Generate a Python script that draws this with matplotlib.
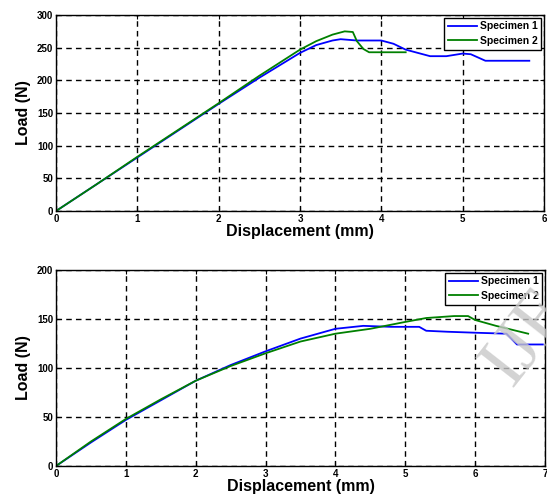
import matplotlib
matplotlib.use("Agg")
import matplotlib.pyplot as plt

# top panel: load vs displacement
top_x1 = [0, 0.5, 1.0, 1.5, 2.0, 2.5, 3.0, 3.2, 3.4, 3.5, 3.7, 3.9, 4.0, 4.15, 4.3, 4.45, 4.6, 4.8, 5.0, 5.1, 5.28, 5.5, 5.82]
top_y1 = [0, 41, 82, 123, 164, 204, 242, 254, 261, 263, 261, 261, 261, 256, 247, 242, 237, 237, 241, 240, 230, 230, 230]
top_x2 = [0, 0.5, 1.0, 1.5, 2.0, 2.5, 3.0, 3.2, 3.4, 3.55, 3.65, 3.7, 3.78, 3.85, 4.0, 4.15, 4.3]
top_y2 = [0, 41, 83, 124, 165, 207, 247, 260, 270, 275, 274, 260, 248, 243, 243, 243, 243]

# bottom panel
bot_x1 = [0, 0.5, 1.0, 1.5, 2.0, 2.5, 3.0, 3.5, 4.0, 4.4, 4.8, 5.2, 5.3, 5.6, 6.0, 6.45, 6.6, 6.97]
bot_y1 = [0, 24, 47, 67, 87, 103, 117, 130, 140, 143, 142, 142, 138, 137, 136, 135, 124, 124]
bot_x2 = [0, 0.5, 1.0, 1.5, 2.0, 2.5, 3.0, 3.5, 4.0, 4.5, 5.0, 5.3, 5.7, 5.9, 6.0, 6.3, 6.76]
bot_y2 = [0, 25, 48, 68, 87, 102, 115, 127, 135, 140, 147, 151, 153, 153, 149, 143, 135]

labels = ["Specimen 1", "Specimen 2"]
colors = ["#0000ff", "#008000"]

plt.rcParams["font.family"] = ["Liberation Sans", "DejaVu Sans"]
plt.rcParams["font.weight"] = "bold"

fig = plt.figure(figsize=(5.47, 5.04), dpi=100)
ax_top = fig.add_axes([0.1024, 0.5813, 0.8920, 0.3889])
ax_bot = fig.add_axes([0.1024, 0.0754, 0.8938, 0.3889])

panels = [
    (ax_top, top_x1, top_y1, top_x2, top_y2, 6, 300, 1, 50),
    (ax_bot, bot_x1, bot_y1, bot_x2, bot_y2, 7, 200, 1, 50),
]

for ax, x1, y1, x2, y2, xmax, ymax, xstep, ystep in panels:
    ax.plot(x1, y1, color=colors[0], lw=1.3, label=labels[0])
    ax.plot(x2, y2, color=colors[1], lw=1.3, label=labels[1])
    ax.set_xlim(0, xmax)
    ax.set_ylim(0, ymax)
    ax.set_xticks(range(0, xmax + 1, xstep))
    ax.set_yticks(range(0, ymax + 1, ystep))
    ax.tick_params(direction="in", top=True, right=True, labelsize=7, length=3, pad=2)
    for lab in ax.get_xticklabels() + ax.get_yticklabels():
        lab.set_fontweight("bold")
    ax.grid(True, color="black", ls=(0, (4, 3)), lw=1.0)
    for s in ax.spines.values():
        s.set_linewidth(1.0)
    ax.set_xlabel("Displacement (mm)", fontsize=11.5, fontweight="bold", labelpad=0)
    ax.set_ylabel("Load (N)", fontsize=11.5, fontweight="bold", labelpad=4)
    leg = ax.legend(loc="upper right", fontsize=7.5, frameon=True, fancybox=False,
                    edgecolor="black", framealpha=1, borderpad=0.35, labelspacing=0.45,
                    handlelength=2.8, handletextpad=0.3, borderaxespad=0.25)
    leg.get_frame().set_linewidth(1.0)

# faint watermark, cut by the right edge as in the original
fig.text(0.965, 0.33, "IJE", fontsize=54, color="#c8c8c8", rotation=52,
         family="Liberation Serif", fontweight="normal", ha="center", va="center", alpha=0.8)

fig.savefig("out.png", dpi=100)
